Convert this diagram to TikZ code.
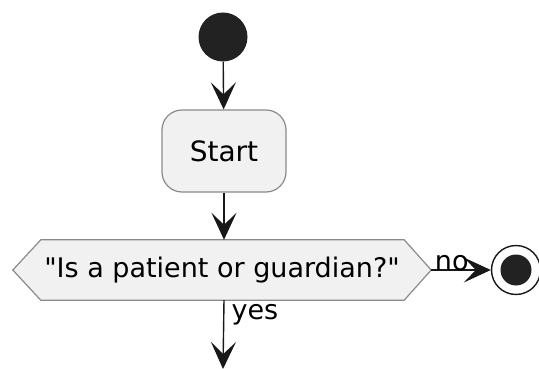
\documentclass[tikz,border=0pt]{standalone}
\usepackage{fontspec}
\setmainfont{DejaVu Sans}[Ligatures=TeXOff]
\usetikzlibrary{arrows.meta,calc}
\definecolor{boxfill}{HTML}{F1F1F1}
\definecolor{ink}{HTML}{181818}
\definecolor{dot}{HTML}{222222}
\definecolor{edge}{HTML}{8A8A8A}
\tikzset{
  flow/.style={draw=ink, line width=1.4pt,
    -{Stealth[length=27pt,width=25pt,inset=12pt]}},
  actbox/.style={draw=edge, fill=boxfill, line width=1.2pt, rounded corners=20pt,
    minimum width=124pt, minimum height=82pt, inner sep=0pt, font=\fontsize{28}{32}\selectfont},
  decbox/.style={inner sep=0pt, minimum width=418pt, minimum height=60pt,
    font=\fontsize{27}{32}\selectfont},
  hexline/.style={draw=edge, fill=boxfill, line width=1.2pt},
  lbl/.style={inner sep=1pt, font=\fontsize{27}{32}\selectfont},
}
\begin{document}
\begin{tikzpicture}[x=1pt,y=-1pt]
  \useasboundingbox (0,0) rectangle (539,369);
  % initial node
  \node[circle, fill=dot, minimum size=49pt, inner sep=0pt] (init) at (223,37) {};
  % activity
  \node[actbox] (act) at (224,151) {Start};
  % decision: hexagon drawn around a plain node
  \node[decbox] (dec) at (222,270) {};
  \path[hexline] (dec.west) -- ($(dec.north west)+(28,0)$) -- ($(dec.north east)+(-27,0)$)
    -- (dec.east) -- ($(dec.south east)+(-27,0)$) -- ($(dec.south west)+(28,0)$) -- cycle;
  \node[decbox] at (dec.center) {"Is a patient or guardian?"};
  % final node
  \node[circle, draw=ink, fill=white, line width=1.4pt, minimum size=49pt, inner sep=0pt] (fin) at (516,270) {};
  \node[circle, fill=dot, minimum size=31pt, inner sep=0pt] at (fin.center) {};
  \coordinate (out) at (223,369);
  % connectors
  \draw[flow] (init) -- (act);
  \draw[flow] (act) -- (act |- dec.north);
  \draw[flow] (dec.east) -- (fin) node[lbl, pos=0.0, anchor=south west, xshift=2pt, yshift=-3pt] {no};
  \draw[flow] (dec.south -| act) -- (out) node[lbl, pos=0.05, anchor=north west, xshift=6pt, yshift=1pt] {yes};
\end{tikzpicture}
\end{document}
